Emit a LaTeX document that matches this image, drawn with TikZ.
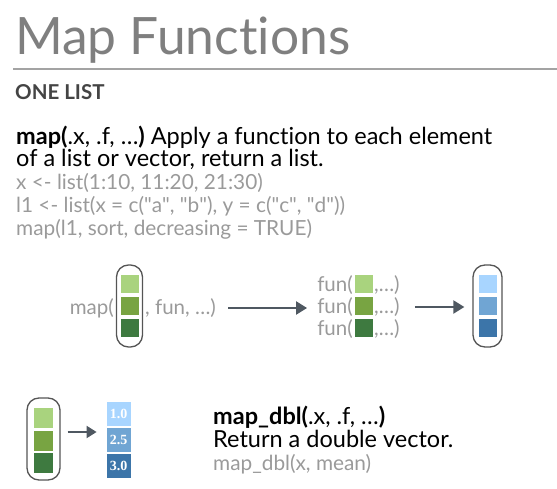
\documentclass[tikz,border=0pt]{standalone}
\usepackage{fontspec}
\setmainfont{Lato}[Ligatures={NoCommon}]
\newfontfamily\numfont{Liberation Serif}
\usetikzlibrary{arrows.meta,calc}
\definecolor{titlegray}{HTML}{7F7F7F}
\definecolor{rulegray}{HTML}{A3A3A3}
\definecolor{headgray}{HTML}{444444}
\definecolor{codegray}{HTML}{9A9A9A}
\definecolor{arrgray}{HTML}{4F5861}
\definecolor{lozgray}{HTML}{555555}
\definecolor{gA}{HTML}{A9D37E}
\definecolor{gB}{HTML}{78A442}
\definecolor{gC}{HTML}{3E7A40}
\definecolor{bA}{HTML}{A8D5FF}
\definecolor{bB}{HTML}{70A5D3}
\definecolor{bC}{HTML}{3C75A9}
\newcommand{\qq}{\textquotedbl}
\tikzset{
  txt/.style={anchor=base west, inner sep=0pt, font=\fontsize{23.5}{26}\selectfont},
  code/.style={txt, text=codegray, font=\fontsize{20.8}{23}\selectfont},
  lozenge/.style={draw=lozgray, line width=1.3pt, rounded corners=12pt, minimum width=#1, minimum height=82pt, inner sep=0pt},
  sq/.style={fill=#1, draw=white, line width=0.6pt, minimum width=19pt, minimum height=19pt, inner sep=0pt},
  numsq/.style={fill=#1, draw=white, line width=0.8pt, minimum width=25pt, minimum height=25.5pt, inner sep=0pt, text=white, font=\numfont\bfseries\fontsize{14}{14}\selectfont},
  arr/.style={draw=arrgray, line width=2.2pt, -{Triangle[length=11pt,width=13pt]}},
  dtext/.style={inner sep=0pt, text=codegray, font=\fontsize{20.5}{22}\selectfont},
}
\begin{document}
\begin{tikzpicture}[x=1pt,y=-1pt]
\useasboundingbox (0,0) rectangle (557,489);
% title
\node[anchor=base west, inner sep=0pt, text=titlegray, font=\fontsize{51.5}{60}\selectfont] (title) at (15,55) {Map Functions};
\draw[rulegray, line width=1.6pt] (13,69) -- (557,69);
\node[anchor=base west, inner sep=0pt, text=headgray, font=\bfseries\fontsize{20.5}{24}\selectfont] (onelist) at (15,100) {ONE LIST};
% description
\node[txt] (d1) at (16,145) {\textbf{map(}.x, .f, \dots\textbf{)} Apply a function to each element};
\node[txt] (d2) at (16,167) {of a list or vector, return a list.};
\node[code] (c1) at (16,190) {x <- list(1:10, 11:20, 21:30)};
\node[code] (c2) at (16,213) {l1 <- list(x = c(\qq a\qq, \qq b\qq), y = c(\qq c\qq, \qq d\qq))};
\node[code] (c3) at (16,236) {map(l1, sort, decreasing = TRUE)};
% diagram 1
\node[lozenge=26pt] (loz1) at (129.5,306) {};
\node[sq=gA] (g1) at (129.5,284) {};
\node[sq=gB] (g2) at (129.5,306) {};
\node[sq=gC] (g3) at (129.5,328) {};
\node[dtext, anchor=east] (mapopen) at (114,308) {map(};
\node[dtext, anchor=west] (mapargs) at (145,308) {, fun, \dots)};
% fun rows
\node[dtext, anchor=east] (fun1) at (353,285) {fun(};
\node[dtext, anchor=east] (fun2) at (353,307) {fun(};
\node[dtext, anchor=east] (fun3) at (353,329) {fun(};
\node[sq=gA] (fg1) at (364,284) {};
\node[sq=gB] (fg2) at (364,306) {};
\node[sq=gC] (fg3) at (364,328) {};
\node[dtext, anchor=west] (fr1) at (374,285) {,\dots)};
\node[dtext, anchor=west] (fr2) at (374,307) {,\dots)};
\node[dtext, anchor=west] (fr3) at (374,329) {,\dots)};
\coordinate (a1s) at ($(mapargs.east)+(12,0)$);
\draw[arr, shorten >=10pt] (a1s) -- (fun2.west |- a1s);
% result
\node[lozenge=29pt] (loz2) at (487.5,306) {};
\node[sq=bA] (b1) at (487.5,284) {};
\node[sq=bB] (b2) at (487.5,306) {};
\node[sq=bC] (b3) at (487.5,328) {};
\coordinate (a2s) at ($(fr2.east)+(15,0)$);
\draw[arr, shorten >=8pt] (a2s) -- (loz2.west |- a2s);
% map_dbl
\node[lozenge=33pt] (loz3) at (43.5,439) {};
\node[sq=gA, minimum width=20pt, minimum height=21pt] (h1) at (43.5,418) {};
\node[sq=gB, minimum width=20pt, minimum height=21pt] (h2) at (43.5,440.5) {};
\node[sq=gC, minimum width=20pt, minimum height=21pt] (h3) at (43.5,462.5) {};
\node[numsq=bA] (n1) at (118.5,414) {1.0};
\node[numsq=bB] (n2) at (118.5,440) {2.5};
\node[numsq=bC] (n3) at (118.5,466) {3.0};
\coordinate (a3s) at ($(loz3.east |- 0,432)+(7,0)$);
\draw[arr, line width=2pt, shorten >=9pt, -{Triangle[length=10pt,width=12pt]}] (a3s) -- (n1.west |- a3s);
\node[txt] (m1) at (213,424) {\textbf{map\_dbl(}.x, .f, \dots\textbf{)}};
\node[txt] (m2) at (213,447) {Return a double vector.};
\node[code] (m3) at (213,470) {map\_dbl(x, mean)};
\end{tikzpicture}
\end{document}
